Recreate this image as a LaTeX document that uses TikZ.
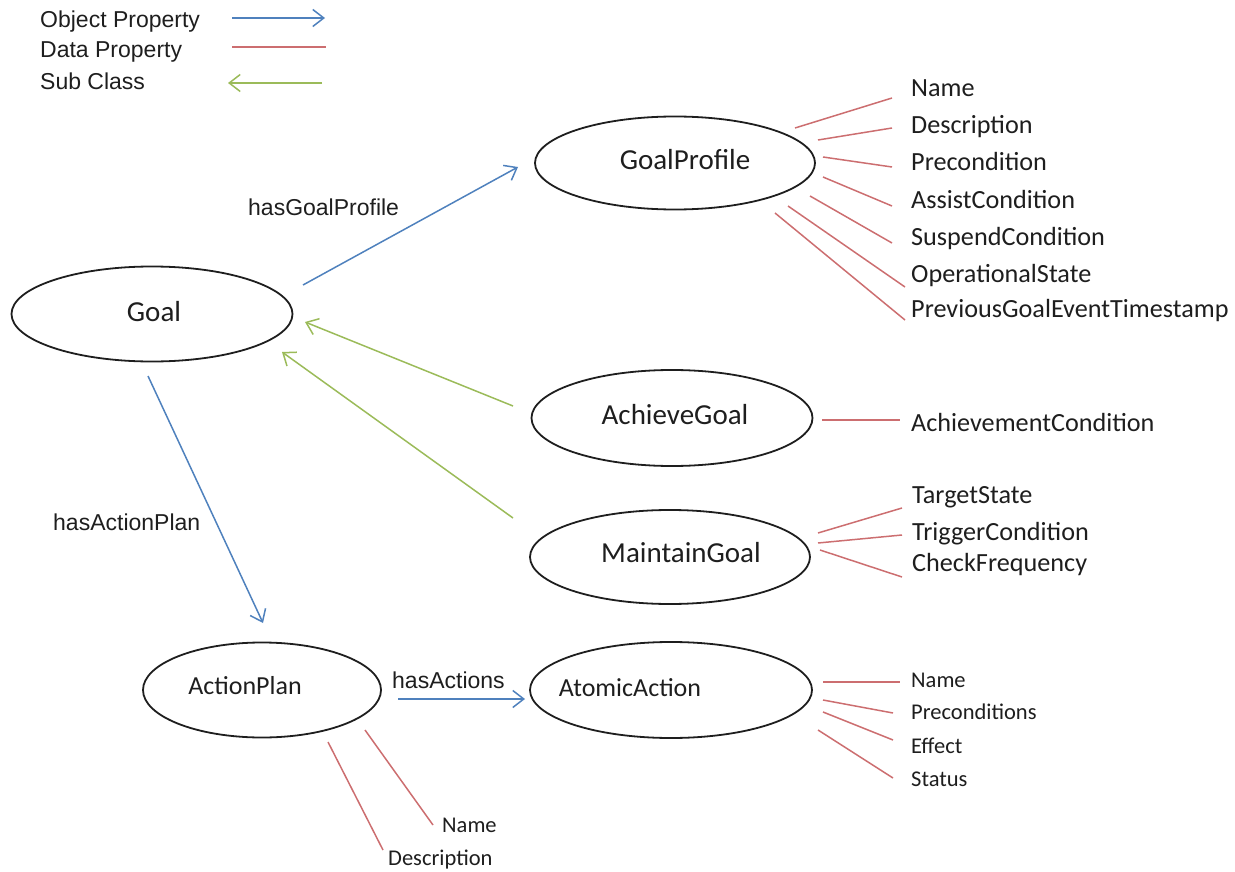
\documentclass[tikz,border=0pt]{standalone}
\usepackage{fontspec}
\newfontfamily\calibrifont{Carlito}
\newfontfamily\arialfont{Liberation Sans}
\usetikzlibrary{arrows.meta,calc,shapes.geometric}

\definecolor{objblue}{RGB}{79,129,189}
\definecolor{datared}{RGB}{204,110,112}
\definecolor{subgreen}{RGB}{155,187,89}
\definecolor{inkgray}{RGB}{30,30,30}

\tikzset{
  cls/.style={ellipse,draw=inkgray,line width=1.8pt,inner sep=0pt},
  clsname/.style={font=\calibrifont\fontsize{29}{34}\selectfont,text=inkgray,inner sep=0pt},
  clsnamesm/.style={font=\calibrifont\fontsize{26}{31}\selectfont,text=inkgray,inner sep=0pt},
  attr/.style={font=\calibrifont\fontsize{26.2}{30}\selectfont,text=inkgray,inner sep=0pt,anchor=base west},
  attrsm/.style={font=\calibrifont\fontsize{22.5}{27}\selectfont,text=inkgray,inner sep=0pt,anchor=base west},
  rel/.style={font=\arialfont\fontsize{23}{27}\selectfont,text=inkgray,inner sep=0pt,anchor=base west},
  objprop/.style={draw=objblue,line width=1.5pt,-{Straight Barb[length=11pt,width=17pt,line width=1.5pt]}},
  dataprop/.style={draw=datared,line width=1.5pt},
  subclass/.style={draw=subgreen,line width=1.5pt,-{Straight Barb[length=11pt,width=17pt,line width=1.5pt]}},
}

\begin{document}
\begin{tikzpicture}[x=1pt,y=-1pt]
\useasboundingbox (0,0) rectangle (1235,872);

% legend
\node[rel] (lgobj) at (40,28) {Object Property};
\node[rel] (lgdata) at (40,58) {Data Property};
\node[rel] (lgsub) at (40,90) {Sub Class};
\coordinate (lgobjA) at (232,18);  \coordinate (lgobjB) at (325,18);
\coordinate (lgdataA) at (232,47); \coordinate (lgdataB) at (326,47);
\coordinate (lgsubA) at (322,83);  \coordinate (lgsubB) at (228,83);
\draw[objprop] (lgobjA) -- (lgobjB);
\draw[dataprop] (lgdataA) -- (lgdataB);
\draw[subclass] (lgsubA) -- (lgsubB);

% classes
\node[cls,minimum width=281pt,minimum height=95pt] (goal) at (152,314) {};
\node[cls,minimum width=280pt,minimum height=93pt] (gp) at (675,163) {};
\node[cls,minimum width=281pt,minimum height=96pt] (ag) at (672,418) {};
\node[cls,minimum width=280pt,minimum height=94pt] (mg) at (670,557) {};
\node[cls,minimum width=238pt,minimum height=95pt] (ap) at (262,690) {};
\node[cls,minimum width=282pt,minimum height=96pt] (aa) at (671,690) {};

\node[clsname] (goalT) at (154,312) {Goal};
\node[clsname] (gpT) at (685,160) {GoalProfile};
\node[clsname] (agT) at (675,415) {AchieveGoal};
\node[clsname] (mgT) at (681,553) {MaintainGoal};
\node[clsnamesm] (apT) at (245,686) {ActionPlan};
\node[clsnamesm] (aaT) at (630,688) {AtomicAction};

% object properties
\draw[objprop] ($(goal)+(151,-29)$) -- ($(gp)+(-157,4)$);
\node[rel] (relGP) at (248,215) {hasGoalProfile};
\draw[objprop] ($(goal)+(-4,62)$) -- ($(ap)+(1,-67)$);
\node[rel] (relAP) at (53,530) {hasActionPlan};
\draw[objprop] ($(ap)+(136,9)$) -- ($(aa)+(-146,9)$);
\node[rel] (relAA) at (392,688) {hasActions};

% sub classes
\draw[subclass] ($(ag)+(-159,-12)$) -- ($(goal)+(153,8)$);
\draw[subclass] ($(mg)+(-157,-39)$) -- ($(goal)+(130,38)$);

% GoalProfile data properties
\node[attr] (gp1) at (911,97) {Name};
\node[attr] (gp2) at (911,134) {Description};
\node[attr] (gp3) at (911,171) {Precondition};
\node[attr] (gp4) at (911,208) {AssistCondition};
\node[attr] (gp5) at (911,245) {SuspendCondition};
\node[attr] (gp6) at (911,282) {OperationalState};
\node[attr] (gp7) at (911,317) {PreviousGoalEventTimestamp};
\draw[dataprop] ($(gp)+(120,-35)$) -- ($(gp1.base west)+(-19,1)$);
\draw[dataprop] ($(gp)+(143,-23)$) -- ($(gp2.base west)+(-19,-6)$);
\draw[dataprop] ($(gp)+(148,-6)$) -- ($(gp3.base west)+(-19,-4)$);
\draw[dataprop] ($(gp)+(148,14)$) -- ($(gp4.base west)+(-19,-2)$);
\draw[dataprop] ($(gp)+(135,33)$) -- ($(gp5.base west)+(-19,-2)$);
\draw[dataprop] ($(gp)+(113,43)$) -- ($(gp6.base west)+(-6,5)$);
\draw[dataprop] ($(gp)+(100,50)$) -- ($(gp7.base west)+(-6,3)$);

% AchieveGoal data property
\node[attr] (ag1) at (911,431) {AchievementCondition};
\draw[dataprop] ($(ag)+(150,2)$) -- ($(ag1.base west)+(-11,-11)$);

% MaintainGoal data properties
\node[attr] (mg1) at (912,503) {TargetState};
\node[attr] (mg2) at (912,540) {TriggerCondition};
\node[attr] (mg3) at (912,571) {CheckFrequency};
\draw[dataprop] ($(mg)+(148,-24)$) -- ($(mg1.base west)+(-10,5)$);
\draw[dataprop] ($(mg)+(148,-14)$) -- ($(mg2.base west)+(-10,-5)$);
\draw[dataprop] ($(mg)+(150,-7)$) -- ($(mg3.base west)+(-10,6)$);

% AtomicAction data properties
\node[attrsm] (aa1) at (911,687) {Name};
\node[attrsm] (aa2) at (911,719) {Preconditions};
\node[attrsm] (aa3) at (911,753) {Effect};
\node[attrsm] (aa4) at (911,786) {Status};
\draw[dataprop] ($(aa)+(152,-8)$) -- ($(aa1.base west)+(-11,-5)$);
\draw[dataprop] ($(aa)+(152,10)$) -- ($(aa2.base west)+(-18,-6)$);
\draw[dataprop] ($(aa)+(152,22)$) -- ($(aa3.base west)+(-18,-13)$);
\draw[dataprop] ($(aa)+(147,40)$) -- ($(aa4.base west)+(-18,-8)$);

% ActionPlan data properties
\node[attrsm] (ap1) at (442,832) {Name};
\node[attrsm] (ap2) at (388,865) {Description};
\draw[dataprop] ($(ap)+(103,40)$) -- ($(ap1.base west)+(-9,-7)$);
\draw[dataprop] ($(ap)+(66,52)$) -- ($(ap2.base west)+(-5,-15)$);
\end{tikzpicture}
\end{document}
